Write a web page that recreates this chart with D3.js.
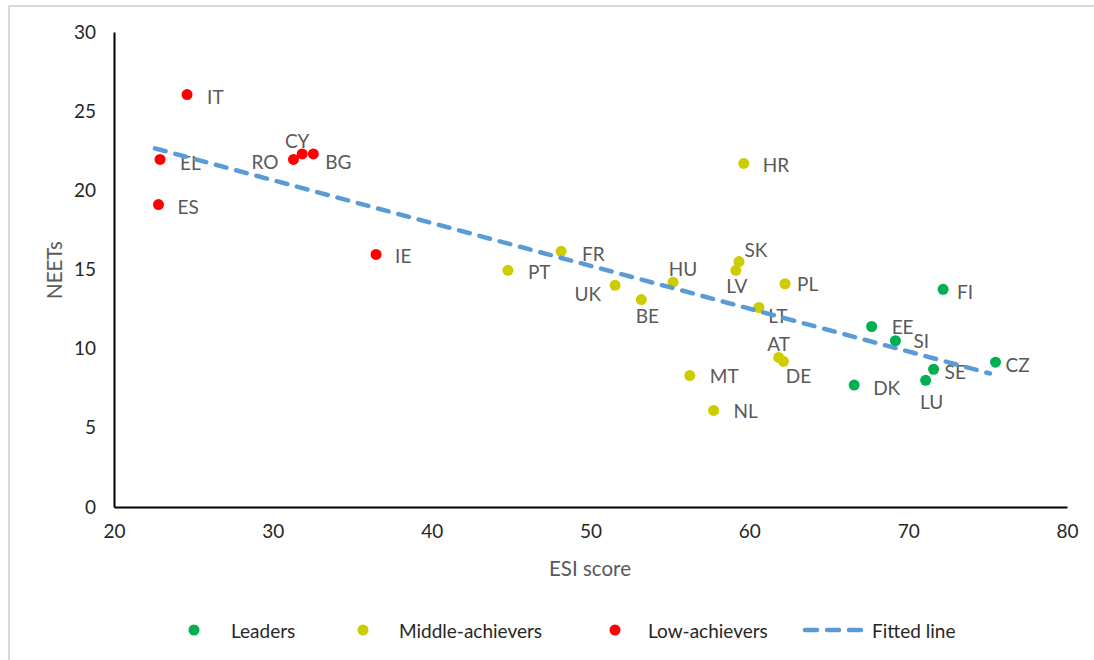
<!DOCTYPE html>
<html>
<head>
<meta charset="utf-8">
<script src="https://cdn.jsdelivr.net/npm/d3@7"></script>
<style>
  html, body { margin: 0; padding: 0; background: #fff; }
  svg { display: block; font-family: Lato, "Open Sans", sans-serif; }
</style>
</head>
<body>
<svg id="chart" width="1094" height="660"></svg>
<script>
// Country codes with ESI score (x) and NEETs rate (y), by group
const leaderCodes = ["FI", "EE", "SI", "SE", "LU", "DK", "CZ"];
const leaderEsi   = [72.2, 67.7, 69.2, 71.6, 71.1, 66.6, 75.5];
const leaderNeet  = [13.75, 11.4, 10.5, 8.7, 8.0, 7.7, 9.15];

const middleCodes = ["HR", "FR", "PT", "UK", "BE", "HU", "SK", "LV", "PL", "LT", "AT", "DE", "MT", "NL"];
const middleEsi   = [59.65, 48.15, 44.8, 51.55, 53.2, 55.2, 59.35, 59.15, 62.25, 60.6, 61.85, 62.15, 56.25, 57.75];
const middleNeet  = [21.7, 16.15, 14.95, 14.0, 13.1, 14.2, 15.5, 14.95, 14.1, 12.6, 9.45, 9.2, 8.3, 6.1];

const lowCodes = ["IT", "EL", "ES", "RO", "CY", "BG", "IE"];
const lowEsi   = [24.6, 22.9, 22.8, 31.3, 31.85, 32.55, 36.5];
const lowNeet  = [26.05, 21.95, 19.1, 21.95, 22.3, 22.3, 15.95];

// Fitted line end points (ESI score, NEETs)
const fitEsi  = [22.58, 75.15];
const fitNeet = [22.65, 8.43];

const xTicks = [20, 30, 40, 50, 60, 70, 80];
const yTicks = [0, 5, 10, 15, 20, 25, 30];

const groupNames  = ["Leaders", "Middle-achievers", "Low-achievers"];
const groupColors = ["#00B050", "#CCCC00", "#FF0000"];
const fitName = "Fitted line";
const fitColor = "#5B9BD5";

// Data label placement: [anchor, dx, dy] relative to the point
const labelPlacement = {
  IT: ["start", 20, 2], EL: ["start", 20, 3], ES: ["start", 19, 2],
  RO: ["end", -15, 2], CY: ["middle", -5, -13], BG: ["start", 12, 8],
  IE: ["start", 19, 1], HR: ["start", 19, 1], FR: ["start", 21, 2],
  PT: ["start", 20, 1], UK: ["end", -14, 8], BE: ["middle", 6, 16],
  HU: ["middle", 10, -14], SK: ["middle", 17, -12], LV: ["middle", 1, 15],
  PL: ["start", 12, 0], LT: ["middle", 19, 8], AT: ["middle", 0, -14],
  DE: ["middle", 15, 14], MT: ["start", 20, 0], NL: ["start", 20, 0],
  FI: ["start", 14, 2], EE: ["start", 20, 0], SI: ["start", 18, 0],
  SE: ["start", 11, 2], LU: ["middle", 6, 21], DK: ["start", 19, 2],
  CZ: ["start", 10, 2]
};

const groups = [
  { codes: leaderCodes, esi: leaderEsi, neet: leaderNeet },
  { codes: middleCodes, esi: middleEsi, neet: middleNeet },
  { codes: lowCodes,    esi: lowEsi,    neet: lowNeet }
];

const svg = d3.select("#chart");

// Outer chart frame
svg.append("rect")
  .attr("x", 9).attr("y", 6)
  .attr("width", 1100).attr("height", 670)
  .attr("fill", "#fff")
  .attr("stroke", "#D9D9D9").attr("stroke-width", 2);

const x = d3.scaleLinear().domain([20, 80]).range([114, 1067]);
const y = d3.scaleLinear().domain([0, 30]).range([507, 32]);

const fontSize = 19;
const titleSize = 20.5;
const tickColor = "#262626";
const labelColor = "#595959";

// Y axis
const yAxis = svg.append("g")
  .attr("transform", `translate(${x(20)},0)`)
  .call(d3.axisLeft(y).tickValues(yTicks).tickSize(0).tickPadding(18).tickFormat(d3.format("d")));
yAxis.select(".domain").attr("stroke", "#000").attr("stroke-width", 2);
yAxis.selectAll("text")
  .attr("fill", tickColor).style("font-size", fontSize + "px")
  .style("font-family", "Lato, sans-serif");

// X axis
const xAxis = svg.append("g")
  .attr("transform", `translate(0,${y(0)})`)
  .call(d3.axisBottom(x).tickValues(xTicks).tickSize(0).tickPadding(18).tickFormat(d3.format("d")));
xAxis.select(".domain").attr("stroke", "#000").attr("stroke-width", 2);
xAxis.selectAll("text")
  .attr("fill", tickColor).style("font-size", fontSize + "px")
  .style("font-family", "Lato, sans-serif");

// Axis titles
svg.append("text")
  .attr("x", 590).attr("y", 568)
  .attr("text-anchor", "middle").attr("dominant-baseline", "central")
  .attr("fill", labelColor).style("font-size", titleSize + "px")
  .text("ESI score");

svg.append("text")
  .attr("transform", `translate(54,270) rotate(-90)`)
  .attr("text-anchor", "middle").attr("dominant-baseline", "central")
  .attr("fill", labelColor).style("font-size", titleSize + "px")
  .text("NEETs");

// Points and data labels
groups.forEach((g, gi) => {
  const rows = g.codes.map((c, i) => ({ code: c, esi: g.esi[i], neet: g.neet[i] }));
  const layer = svg.append("g");
  layer.selectAll("circle").data(rows).join("circle")
    .attr("cx", d => x(d.esi)).attr("cy", d => y(d.neet))
    .attr("r", 5.5).attr("fill", groupColors[gi]);
  layer.selectAll("text").data(rows).join("text")
    .attr("x", d => x(d.esi) + labelPlacement[d.code][1])
    .attr("y", d => y(d.neet) + labelPlacement[d.code][2])
    .attr("text-anchor", d => labelPlacement[d.code][0])
    .attr("dominant-baseline", "central")
    .attr("fill", labelColor).style("font-size", fontSize + "px")
    .text(d => d.code);
});

// Fitted line
svg.append("path")
  .datum(fitEsi.map((v, i) => [v, fitNeet[i]]))
  .attr("d", d3.line().x(d => x(d[0])).y(d => y(d[1])))
  .attr("fill", "none").attr("stroke", fitColor)
  .attr("stroke-width", 4.5).attr("stroke-linecap", "round")
  .attr("stroke-dasharray", "11,10");

// Legend
const legendY = 630;
const legendItems = [
  { name: groupNames[0], color: groupColors[0], mx: 194, tx: 231 },
  { name: groupNames[1], color: groupColors[1], mx: 363, tx: 399 },
  { name: groupNames[2], color: groupColors[2], mx: 615, tx: 648 }
];
const legend = svg.append("g");
legendItems.forEach(it => {
  legend.append("circle").attr("cx", it.mx).attr("cy", legendY).attr("r", 5.5).attr("fill", it.color);
  legend.append("text").attr("x", it.tx).attr("y", legendY)
    .attr("dominant-baseline", "central")
    .attr("fill", tickColor).style("font-size", fontSize + "px")
    .text(it.name);
});
legend.append("line")
  .attr("x1", 805).attr("x2", 861).attr("y1", legendY).attr("y2", legendY)
  .attr("stroke", fitColor).attr("stroke-width", 4.5)
  .attr("stroke-linecap", "round").attr("stroke-dasharray", "12,10");
legend.append("text").attr("x", 872).attr("y", legendY)
  .attr("dominant-baseline", "central")
  .attr("fill", tickColor).style("font-size", fontSize + "px")
  .text(fitName);
</script>
</body>
</html>
